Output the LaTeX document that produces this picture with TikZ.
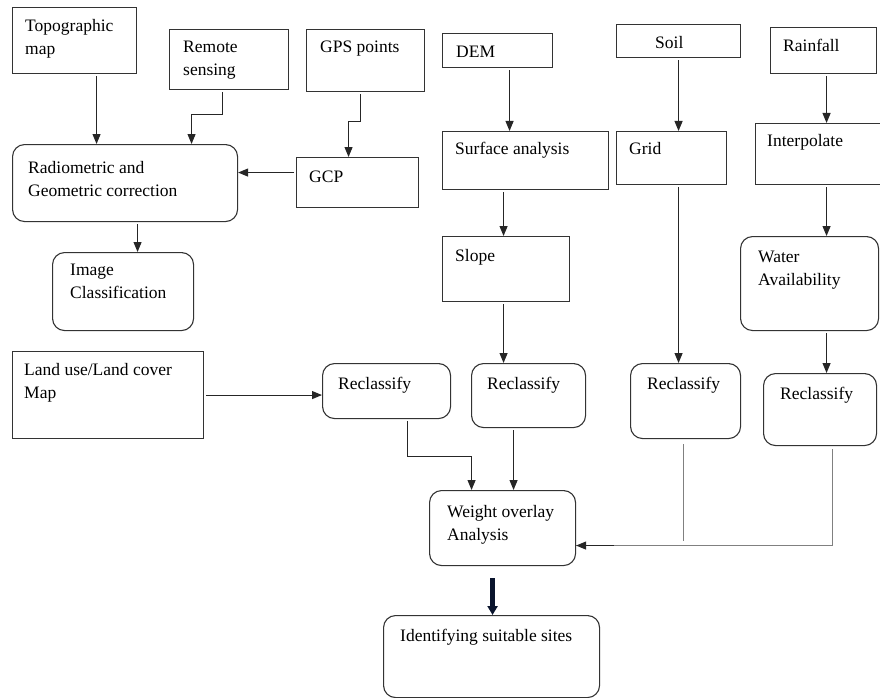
\documentclass[tikz,border=0pt]{standalone}
\usepackage{fontspec}
\setmainfont{Liberation Serif}
\usetikzlibrary{arrows.meta,calc}
\begin{document}
\begin{tikzpicture}[x=1pt,y=-1pt,
    sqbox/.style={draw=black!80,line width=1.1pt,inner sep=0pt,anchor=north west},
    rdbox/.style={sqbox,rounded corners=12pt},
    txt/.style={inner sep=0pt,anchor=north west,align=left,font=\fontsize{17.5}{23}\selectfont},
    arr/.style={draw=black!85,line width=1.1pt,-{Triangle[width=8pt,length=10pt]},shorten <=2pt},
    grline/.style={draw=black!50,line width=1.1pt},
    bigarr/.style={draw={rgb,255:red,10;green,20;blue,45},line width=4.5pt,-{Triangle[width=10pt,length=9pt]}}]
    \useasboundingbox (0,0) rectangle (880,698);
    % boxes
    \node[sqbox,minimum width=124,minimum height=66] (topo) at (12,7) {};
    \node[sqbox,minimum width=119,minimum height=60] (remote) at (169,29) {};
    \node[sqbox,minimum width=118,minimum height=62] (gps) at (306,29) {};
    \node[rdbox,minimum width=225,minimum height=77] (rad) at (12,144) {};
    \node[sqbox,minimum width=122,minimum height=50] (gcp) at (296,157) {};
    \node[rdbox,minimum width=141,minimum height=78] (imgcls) at (52,252) {};
    \node[sqbox,minimum width=191,minimum height=87] (landuse) at (12,351) {};
    \node[rdbox,minimum width=128,minimum height=55] (recla) at (322,363) {};
    \node[sqbox,minimum width=110,minimum height=34] (dem) at (442,33) {};
    \node[sqbox,minimum width=166,minimum height=58] (surf) at (442,131) {};
    \node[sqbox,minimum width=127,minimum height=65] (slope) at (442,236) {};
    \node[rdbox,minimum width=114,minimum height=64] (reclb) at (471,363) {};
    \node[sqbox,minimum width=124,minimum height=33] (soil) at (616,24) {};
    \node[sqbox,minimum width=110,minimum height=53] (grid) at (616,131) {};
    \node[rdbox,minimum width=110,minimum height=75] (reclc) at (630,363) {};
    \node[sqbox,minimum width=106,minimum height=46] (rain) at (770,27) {};
    \node[sqbox,minimum width=129,minimum height=61] (interp) at (755,123) {};
    \node[rdbox,minimum width=138,minimum height=94] (water) at (740,236) {};
    \node[rdbox,minimum width=113,minimum height=72] (recld) at (763,373) {};
    \node[rdbox,minimum width=146,minimum height=75] (weight) at (429,490) {};
    \node[rdbox,minimum width=216,minimum height=82] (ident) at (383,615) {};
    % texts
    \node[txt] (topo-t) at (25,19) {Topographic\\map};
    \node[txt] (remote-t) at (183,41) {Remote\\sensing};
    \node[txt] (gps-t) at (320,41) {GPS points};
    \node[txt] (rad-t) at (28,161) {Radiometric and\\Geometric correction};
    \node[txt] (gcp-t) at (309,171) {GCP};
    \node[txt] (imgcls-t) at (70,264) {Image\\Classification};
    \node[txt] (landuse-t) at (24,363) {Land use/Land cover\\Map};
    \node[txt] (recla-t) at (338,377) {Reclassify};
    \node[txt] (dem-t) at (456,46) {DEM};
    \node[txt] (surf-t) at (455,142) {Surface analysis};
    \node[txt] (slope-t) at (455,249) {Slope};
    \node[txt] (reclb-t) at (487,377) {Reclassify};
    \node[txt] (soil-t) at (655,36) {Soil};
    \node[txt] (grid-t) at (629,142) {Grid};
    \node[txt] (reclc-t) at (647,377) {Reclassify};
    \node[txt] (rain-t) at (783,39) {Rainfall};
    \node[txt] (interp-t) at (767,134) {Interpolate};
    \node[txt] (water-t) at (758,251) {Water\\Availability};
    \node[txt] (recld-t) at (780,387) {Reclassify};
    \node[txt] (weight-t) at (447,505) {Weight overlay\\Analysis};
    \node[txt] (ident-t) at (400,629) {Identifying suitable sites};
    % connectors
    \draw[arr] ([xshift=22]topo.south) -- ([xshift=22]topo.south |- rad.north);
    \draw[arr] ([xshift=-6.5]remote.south) -- ++(0,24) -| ([xshift=66.5]rad.north);
    \draw[arr] ([xshift=-5]gps.south) -- ++(0,29) -| ([xshift=-9]gcp.north);
    \draw[arr] ([yshift=10]gcp.west) -- ([yshift=10]gcp.west -| rad.east);
    \draw[arr] ([xshift=12.5]rad.south) -- ([xshift=12.5]rad.south |- imgcls.north);
    \draw[arr] ([xshift=12]dem.south) -- ([xshift=12]dem.south |- surf.north);
    \draw[arr] ([xshift=-22]surf.south) -- ([xshift=-22]surf.south |- slope.north);
    \draw[arr] ([xshift=-2.5]slope.south) -- ([xshift=-2.5]slope.south |- reclb.north);
    \draw[arr] (soil.south) -- (soil.south |- grid.north);
    \draw[arr] ([xshift=7]grid.south) -- ([xshift=7]grid.south |- reclc.north);
    \draw[arr] ([xshift=3]rain.south) -- ([xshift=3]rain.south |- interp.north);
    \draw[arr] ([xshift=6.5]interp.south) -- ([xshift=6.5]interp.south |- water.north);
    \draw[arr] ([xshift=17]water.south) -- ([xshift=17]water.south |- recld.north);
    \draw[arr] (landuse.east) -- (landuse.east -| recla.west);
    \draw[arr] ([xshift=21]recla.south) -- ++(0,37) -| ([xshift=-31]weight.north);
    \draw[arr] ([xshift=-15]reclb.south) -- ([xshift=-15]reclb.south |- weight.north);
    \draw[grline] ([xshift=-2,yshift=-5]reclc.south) -- ++(0,97);
    \draw[grline] ([xshift=12.5,yshift=-3]recld.south) |- ([yshift=-17.5]weight.east);
    \draw[arr,draw=black!85] ([xshift=40,yshift=-17.5]weight.east) -- ([yshift=-17.5]weight.east);
    \draw[bigarr] ([xshift=-10,yshift=-12]weight.south) -- ([xshift=-10]weight.south |- ident.north);
\end{tikzpicture}
\end{document}
